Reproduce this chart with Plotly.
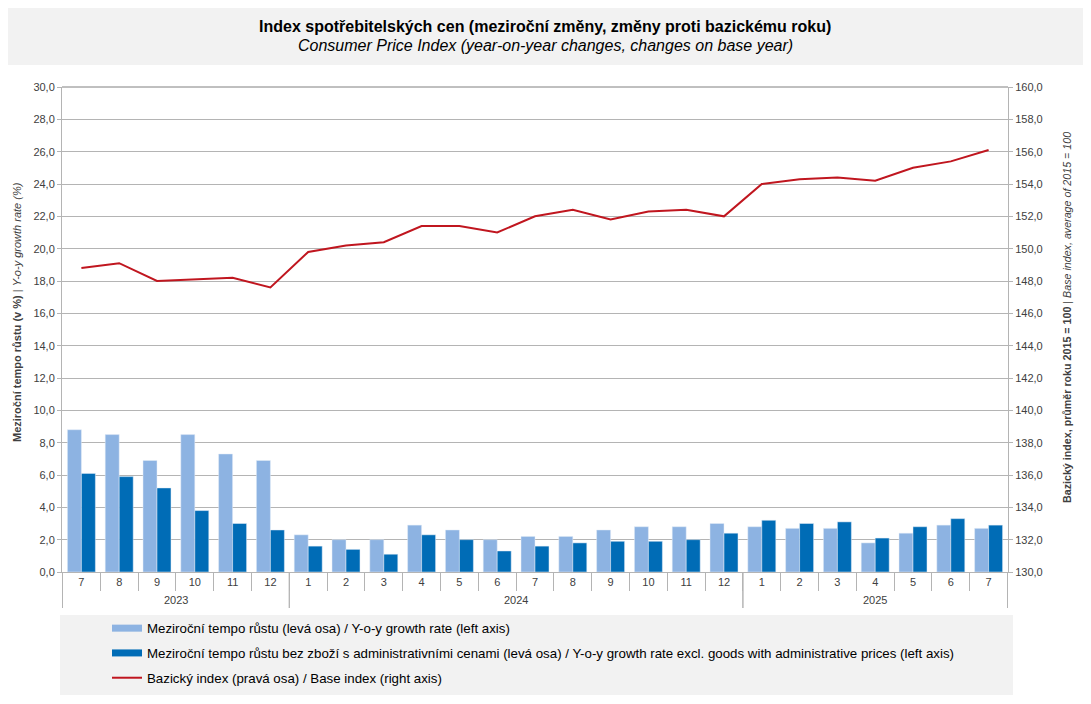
"""Consumer price index chart: y/y growth bars and base index line."""

import plotly.graph_objects as go

# ---- data -------------------------------------------------------------
years = ["2023"] * 6 + ["2024"] * 12 + ["2025"] * 7
months = ["7", "8", "9", "10", "11", "12",
          "1", "2", "3", "4", "5", "6", "7", "8", "9", "10", "11", "12",
          "1", "2", "3", "4", "5", "6", "7"]

yoy_growth = [8.8, 8.5, 6.9, 8.5, 7.3, 6.9,
              2.3, 2.0, 2.0, 2.9, 2.6, 2.0, 2.2, 2.2, 2.6, 2.8, 2.8, 3.0,
              2.8, 2.7, 2.7, 1.8, 2.4, 2.9, 2.7]
yoy_excl_admin = [6.1, 5.9, 5.2, 3.8, 3.0, 2.6,
                  1.6, 1.4, 1.1, 2.3, 2.0, 1.3, 1.6, 1.8, 1.9, 1.9, 2.0, 2.4,
                  3.2, 3.0, 3.1, 2.1, 2.8, 3.3, 2.9]
base_index = [148.8, 149.1, 148.0, 148.1, 148.2, 147.6,
              149.8, 150.2, 150.4, 151.4, 151.4, 151.0, 152.0, 152.4, 151.8, 152.3, 152.4, 152.0,
              154.0, 154.3, 154.4, 154.2, 155.0, 155.4, 156.1]

names = [
    "Meziroční tempo růstu (levá osa) / Y-o-y growth rate (left axis)",
    "Meziroční tempo růstu bez zboží s administrativními cenami (levá osa) / "
    "Y-o-y growth rate excl. goods with administrative prices (left axis)",
    "Bazický index (pravá osa) / Base index (right axis)",
]
colors = ["#8db3e2", "#006cb6", "#c0161f"]

# ---- figure -----------------------------------------------------------
# the page body has an 8px margin, so the figure sits at (8, 8) in the window
OFF = 8
W, H = 1091 - OFF, 704 - OFF
L, R, T, B = 62 - OFF, 83, 87 - OFF, 132
PW, PH = W - L - R, H - T - B
FONT = "Liberation Sans, Arial, sans-serif"
GRID = "#b4b4b4"
TXT = "#404040"


def px(xs):
    """window x pixel -> paper fraction"""
    return (xs - OFF - L) / PW


def py(ys):
    """window y pixel -> paper fraction"""
    return (OFF + H - B - ys) / PH


# unique category ids, shown with the month only
cats = [f"{y}-{m}" for y, m in zip(years, months)]

fig = go.Figure()
fig.add_trace(go.Bar(x=cats, y=yoy_growth, name=names[0], marker_color=colors[0], showlegend=False))
fig.add_trace(go.Bar(x=cats, y=yoy_excl_admin, name=names[1], marker_color=colors[1], showlegend=False))
fig.add_trace(go.Scatter(x=cats, y=base_index, name=names[2], yaxis="y2", mode="lines",
                         line=dict(color=colors[2], width=2), showlegend=False))

# legend keys drawn as flat bars, like the original
for i, (name, color) in enumerate(zip(names, colors)):
    fig.add_trace(go.Scatter(x=[None], y=[None], mode="lines", name=name, legendgroup=str(i),
                             line=dict(color=color, width=2 if i == 2 else 7)))

fig.update_layout(
    width=W, height=H,
    margin=dict(l=L, r=R, t=T, b=B, autoexpand=False),
    paper_bgcolor="white", plot_bgcolor="white",
    font=dict(family=FONT, size=11, color=TXT),
    separators=", ",
    barmode="group", bargap=0.26, bargroupgap=0,
    showlegend=True,
    legend=dict(x=px(107), y=py(613), yanchor="top", xanchor="left",
                bgcolor="rgba(0,0,0,0)", font=dict(size=13.3, color="#000000"),
                traceorder="grouped", tracegroupgap=4.5, itemwidth=30),
    xaxis=dict(
        type="category", tickmode="array", tickvals=cats, ticktext=months,
        showgrid=False, showline=True, linecolor=GRID,
        ticks="outside", tickson="boundaries", ticklen=18, tickcolor=GRID,
        tickfont=dict(size=11, color=TXT),
    ),
    yaxis=dict(
        range=[0, 30], dtick=2, tickformat=".1f", showgrid=True, gridcolor=GRID,
        showline=True, linecolor=GRID, ticks="outside", ticklen=4, tickcolor=GRID,
        zeroline=False, tickfont=dict(size=11, color=TXT),
    ),
    yaxis2=dict(
        range=[130, 160], dtick=2, tickformat=".1f", overlaying="y", side="right",
        showgrid=False, showline=True, linecolor=GRID, ticks="outside", ticklen=4,
        tickcolor=GRID, zeroline=False, tickfont=dict(size=11, color=TXT),
    ),
)

# axis titles
fig.add_annotation(xref="paper", yref="paper", x=px(17), y=py(312), textangle=-90,
                   xanchor="center", yanchor="middle", showarrow=False,
                   text="<b>Meziroční tempo růstu (v %)</b> | <i>Y-o-y growth rate (%)</i>",
                   font=dict(size=11, color=TXT))
fig.add_annotation(xref="paper", yref="paper", x=px(1067), y=py(318), textangle=-90,
                   xanchor="center", yanchor="middle", showarrow=False,
                   text="<b>Bazický index, průměr roku 2015 = 100</b> | "
                        "<i>Base index, average of 2015 = 100</i>",
                   font=dict(size=10.7, color=TXT))

# year labels and year dividers under the month labels
year_list = list(dict.fromkeys(years))
for yr in year_list:
    idx = [i for i, y in enumerate(years) if y == yr]
    fig.add_annotation(xref="x", yref="paper", x=sum(idx) / len(idx), y=py(600),
                       yanchor="middle", showarrow=False, text=yr,
                       font=dict(size=11, color=TXT))
    for edge in (idx[0] - 0.5, idx[-1] + 0.5):
        fig.add_shape(type="line", xref="x", yref="paper", x0=edge, x1=edge,
                      y0=0, y1=py(608), line=dict(color=GRID, width=1))

# top border line of plot area (darker)
fig.add_shape(type="line", xref="paper", yref="paper", x0=0, x1=1, y0=1, y1=1,
              line=dict(color="#808080", width=1))

# title box
fig.add_shape(type="rect", xref="paper", yref="paper", layer="below",
              x0=px(5), x1=px(1085), y0=py(65), y1=py(5),
              fillcolor="#f2f2f2", line=dict(width=0))
fig.add_annotation(xref="paper", yref="paper", x=px(545), y=py(26), yanchor="middle",
                   showarrow=False,
                   text="<b>Index spotřebitelských cen (meziroční změny, změny proti bazickému roku)</b>",
                   font=dict(size=16, color="#000000"))
fig.add_annotation(xref="paper", yref="paper", x=px(545), y=py(45), yanchor="middle",
                   showarrow=False,
                   text="<i>Consumer Price Index (year-on-year changes, changes on base year)</i>",
                   font=dict(size=16, color="#000000"))

# legend box
fig.add_shape(type="rect", xref="paper", yref="paper", layer="below",
              x0=px(60), x1=px(1013), y0=py(695), y1=py(615),
              fillcolor="#f2f2f2", line=dict(width=0))

fig.write_html("out.html")
